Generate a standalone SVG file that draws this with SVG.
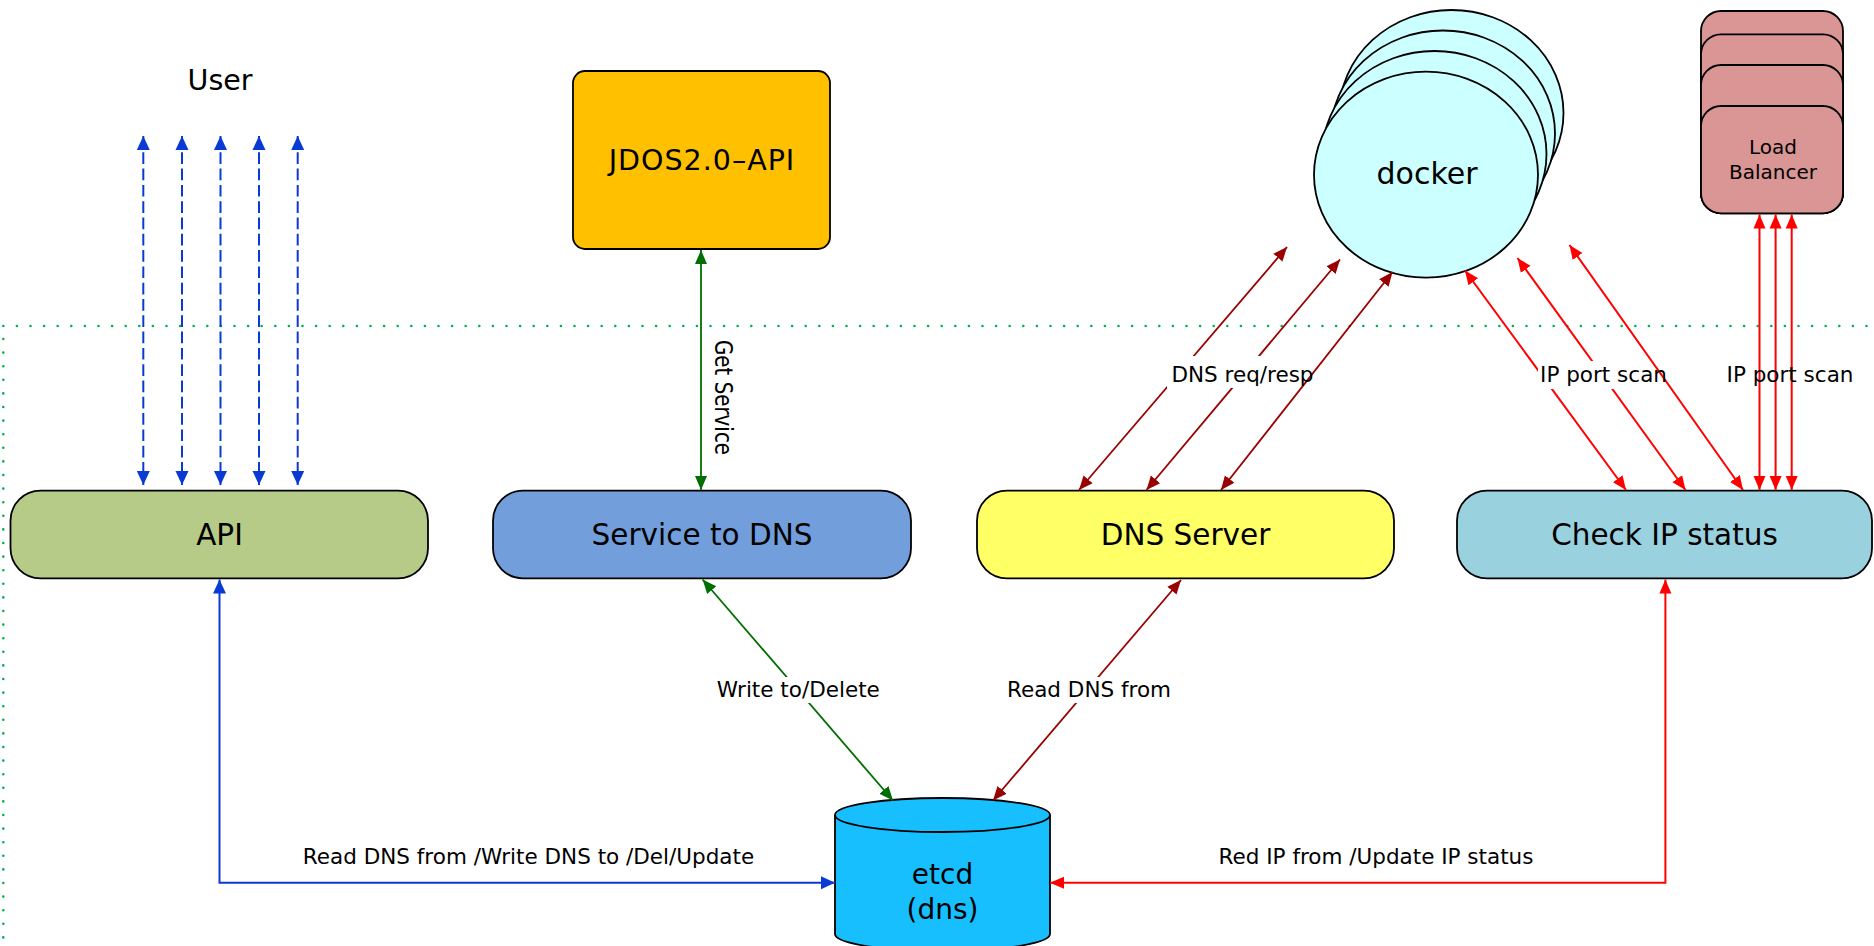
<svg xmlns="http://www.w3.org/2000/svg" width="1874" height="946" viewBox="0 0 1874 946">
<style>
text{font-family:"DejaVu Sans","Noto Sans",sans-serif;fill:#000}
.node{stroke:#000;stroke-width:1.8}
.nl{font-size:29.5px;text-anchor:middle}
.el{font-size:21.5px;text-anchor:middle}
.dot{fill:none;stroke:#00B050;stroke-width:2.6;stroke-linecap:round;stroke-dasharray:0 13.6}
.blue{fill:none;stroke:#0A3AD4;stroke-width:2}
.green{fill:none;stroke:#006E00;stroke-width:1.8}
.dred{fill:none;stroke:#990000;stroke-width:1.8}
.red{fill:none;stroke:#FF0000;stroke-width:2}
.bg{fill:#fff}
</style>
<defs>
<marker id="mb" viewBox="0 0 14 14" refX="14" refY="7" markerWidth="14" markerHeight="14" markerUnits="userSpaceOnUse" orient="auto-start-reverse"><path d="M0,0.5 L14,7 L0,13.5 z" fill="#0A3AD4"/></marker>
<marker id="mg" viewBox="0 0 14 14" refX="14" refY="7" markerWidth="14" markerHeight="14" markerUnits="userSpaceOnUse" orient="auto-start-reverse"><path d="M0,1 L14,7 L0,13 z" fill="#006E00"/></marker>
<marker id="md" viewBox="0 0 14 14" refX="14" refY="7" markerWidth="14" markerHeight="14" markerUnits="userSpaceOnUse" orient="auto-start-reverse"><path d="M0,1 L14,7 L0,13 z" fill="#990000"/></marker>
<marker id="mr" viewBox="0 0 14 14" refX="14" refY="7" markerWidth="14" markerHeight="14" markerUnits="userSpaceOnUse" orient="auto-start-reverse"><path d="M0,1 L14,7 L0,13 z" fill="#FF0000"/></marker>
</defs>
<rect width="1874" height="946" fill="#fff"/>
<g id="boundary">
<path class="dot" d="M3.3,326 H1874"/>
<path class="dot" d="M3.3,339 V946"/>
</g>
<g id="user"><text x="220" y="90" style="font-size:28.5px;text-anchor:middle">User</text></g>
<g id="jdos-api">
<rect class="node" x="573" y="71" width="257" height="178" rx="12" fill="#FFC000"/>
<text x="702" y="170" style="font-size:28.5px;text-anchor:middle;letter-spacing:1px">JDOS2.0–API</text>
</g>
<g id="docker">
<ellipse class="node" cx="1451.5" cy="113" rx="112" ry="103" fill="#CCFFFF"/>
<ellipse class="node" cx="1443" cy="133.5" rx="112" ry="103" fill="#CCFFFF"/>
<ellipse class="node" cx="1434.5" cy="154" rx="112" ry="103" fill="#CCFFFF"/>
<ellipse class="node" cx="1426" cy="174.7" rx="112" ry="103" fill="#CCFFFF"/>
<text x="1427" y="184" style="font-size:30px;text-anchor:middle">docker</text>
</g>
<g id="load-balancer">
<rect class="node" x="1701" y="11" width="142" height="202" rx="20" fill="#D99694"/>
<rect class="node" x="1701" y="34.3" width="142" height="179" rx="20" fill="#D99694"/>
<rect class="node" x="1701" y="65" width="142" height="148" rx="20" fill="#D99694"/>
<rect class="node" x="1701" y="106" width="142" height="107.3" rx="20" fill="#D99694"/>
<text x="1773" y="154" style="font-size:20px;text-anchor:middle">Load</text>
<text x="1773" y="178.5" style="font-size:20px;text-anchor:middle">Balancer</text>
</g>
<g id="api">
<rect class="node" x="10.5" y="490.7" width="417.5" height="87.6" rx="30" fill="#B7CB89"/>
<text class="nl" x="219.5" y="544.5">API</text>
</g>
<g id="service-to-dns">
<rect class="node" x="493" y="490.7" width="418" height="87.6" rx="30" fill="#729FDB"/>
<text class="nl" x="702" y="544.5">Service to DNS</text>
</g>
<g id="dns-server">
<rect class="node" x="977" y="490.7" width="417" height="87.6" rx="30" fill="#FFFF66"/>
<text class="nl" x="1185.5" y="544.5">DNS Server</text>
</g>
<g id="check-ip-status">
<rect class="node" x="1457" y="490.7" width="415" height="87.6" rx="30" fill="#99D1DF"/>
<text class="nl" x="1664.5" y="544.5">Check IP status</text>
</g>
<g id="etcd">
<path class="node" d="M835,815 A107.5,17 0 0 1 1050,815 V934 A107.5,17 0 0 1 835,934 Z" fill="#17BFFF"/>
<path class="node" d="M835,815 A107.5,17 0 0 0 1050,815" fill="none"/>
<text x="942.5" y="883.5" style="font-size:28px;text-anchor:middle">etcd</text>
<text x="942.5" y="918.5" style="font-size:28px;text-anchor:middle">(dns)</text>
</g>
<g id="connectors">
<path class="blue" d="M143.3,136 V485" stroke-dasharray="11.7 4.6" marker-start="url(#mb)" marker-end="url(#mb)"/>
<path class="blue" d="M182,136 V485" stroke-dasharray="11.7 4.6" marker-start="url(#mb)" marker-end="url(#mb)"/>
<path class="blue" d="M220.5,136 V485" stroke-dasharray="11.7 4.6" marker-start="url(#mb)" marker-end="url(#mb)"/>
<path class="blue" d="M259,136 V485" stroke-dasharray="11.7 4.6" marker-start="url(#mb)" marker-end="url(#mb)"/>
<path class="blue" d="M297.7,136 V485" stroke-dasharray="11.7 4.6" marker-start="url(#mb)" marker-end="url(#mb)"/>
<path class="green" d="M701,250 V490" marker-start="url(#mg)" marker-end="url(#mg)"/>
<text transform="translate(715,340) rotate(90)" style="font-size:25px" textLength="115" lengthAdjust="spacingAndGlyphs">Get Service</text>
<path class="dred" d="M1287,247 L1079,490" marker-start="url(#md)" marker-end="url(#md)"/>
<path class="dred" d="M1340,259.5 L1146.5,490" marker-start="url(#md)" marker-end="url(#md)"/>
<rect class="bg" x="1167" y="356" width="150" height="32"/>
<path class="dred" d="M1392.5,272 L1221,490" marker-start="url(#md)" marker-end="url(#md)"/>
<text class="el" x="1242.5" y="382">DNS req/resp</text>
<path class="red" d="M1465,270.5 L1626,490" marker-start="url(#mr)" marker-end="url(#mr)"/>
<path class="red" d="M1517.5,258 L1685.5,490" marker-start="url(#mr)" marker-end="url(#mr)"/>
<rect class="bg" x="1538" y="361" width="132" height="28"/>
<path class="red" d="M1569.5,245 L1743,490" marker-start="url(#mr)" marker-end="url(#mr)"/>
<text class="el" x="1603.5" y="382">IP port scan</text>
<path class="red" d="M1759.5,214.5 V490" marker-start="url(#mr)" marker-end="url(#mr)"/>
<path class="red" d="M1775.6,214.5 V490" marker-start="url(#mr)" marker-end="url(#mr)"/>
<path class="red" d="M1791.7,214.5 V490" marker-start="url(#mr)" marker-end="url(#mr)"/>
<text class="el" x="1790" y="382">IP port scan</text>
<path class="green" d="M702.6,579.5 L893,800.5" marker-start="url(#mg)" marker-end="url(#mg)"/>
<rect class="bg" x="713" y="677" width="170" height="26"/>
<text class="el" x="798.3" y="697">Write to/Delete</text>
<path class="dred" d="M1181,580 L993,800.5" marker-start="url(#md)" marker-end="url(#md)"/>
<rect class="bg" x="1005" y="677" width="168" height="26"/>
<text class="el" x="1089" y="697">Read DNS from</text>
<path class="blue" d="M219.5,579.5 V882.7 H835" marker-start="url(#mb)" marker-end="url(#mb)"/>
<text class="el" x="528.5" y="864">Read DNS from /Write DNS to /Del/Update</text>
<path class="red" d="M1665.4,579.5 V882.7 H1050" marker-start="url(#mr)" marker-end="url(#mr)"/>
<text class="el" x="1376" y="864">Red IP from /Update IP status</text>
</g>
</svg>
